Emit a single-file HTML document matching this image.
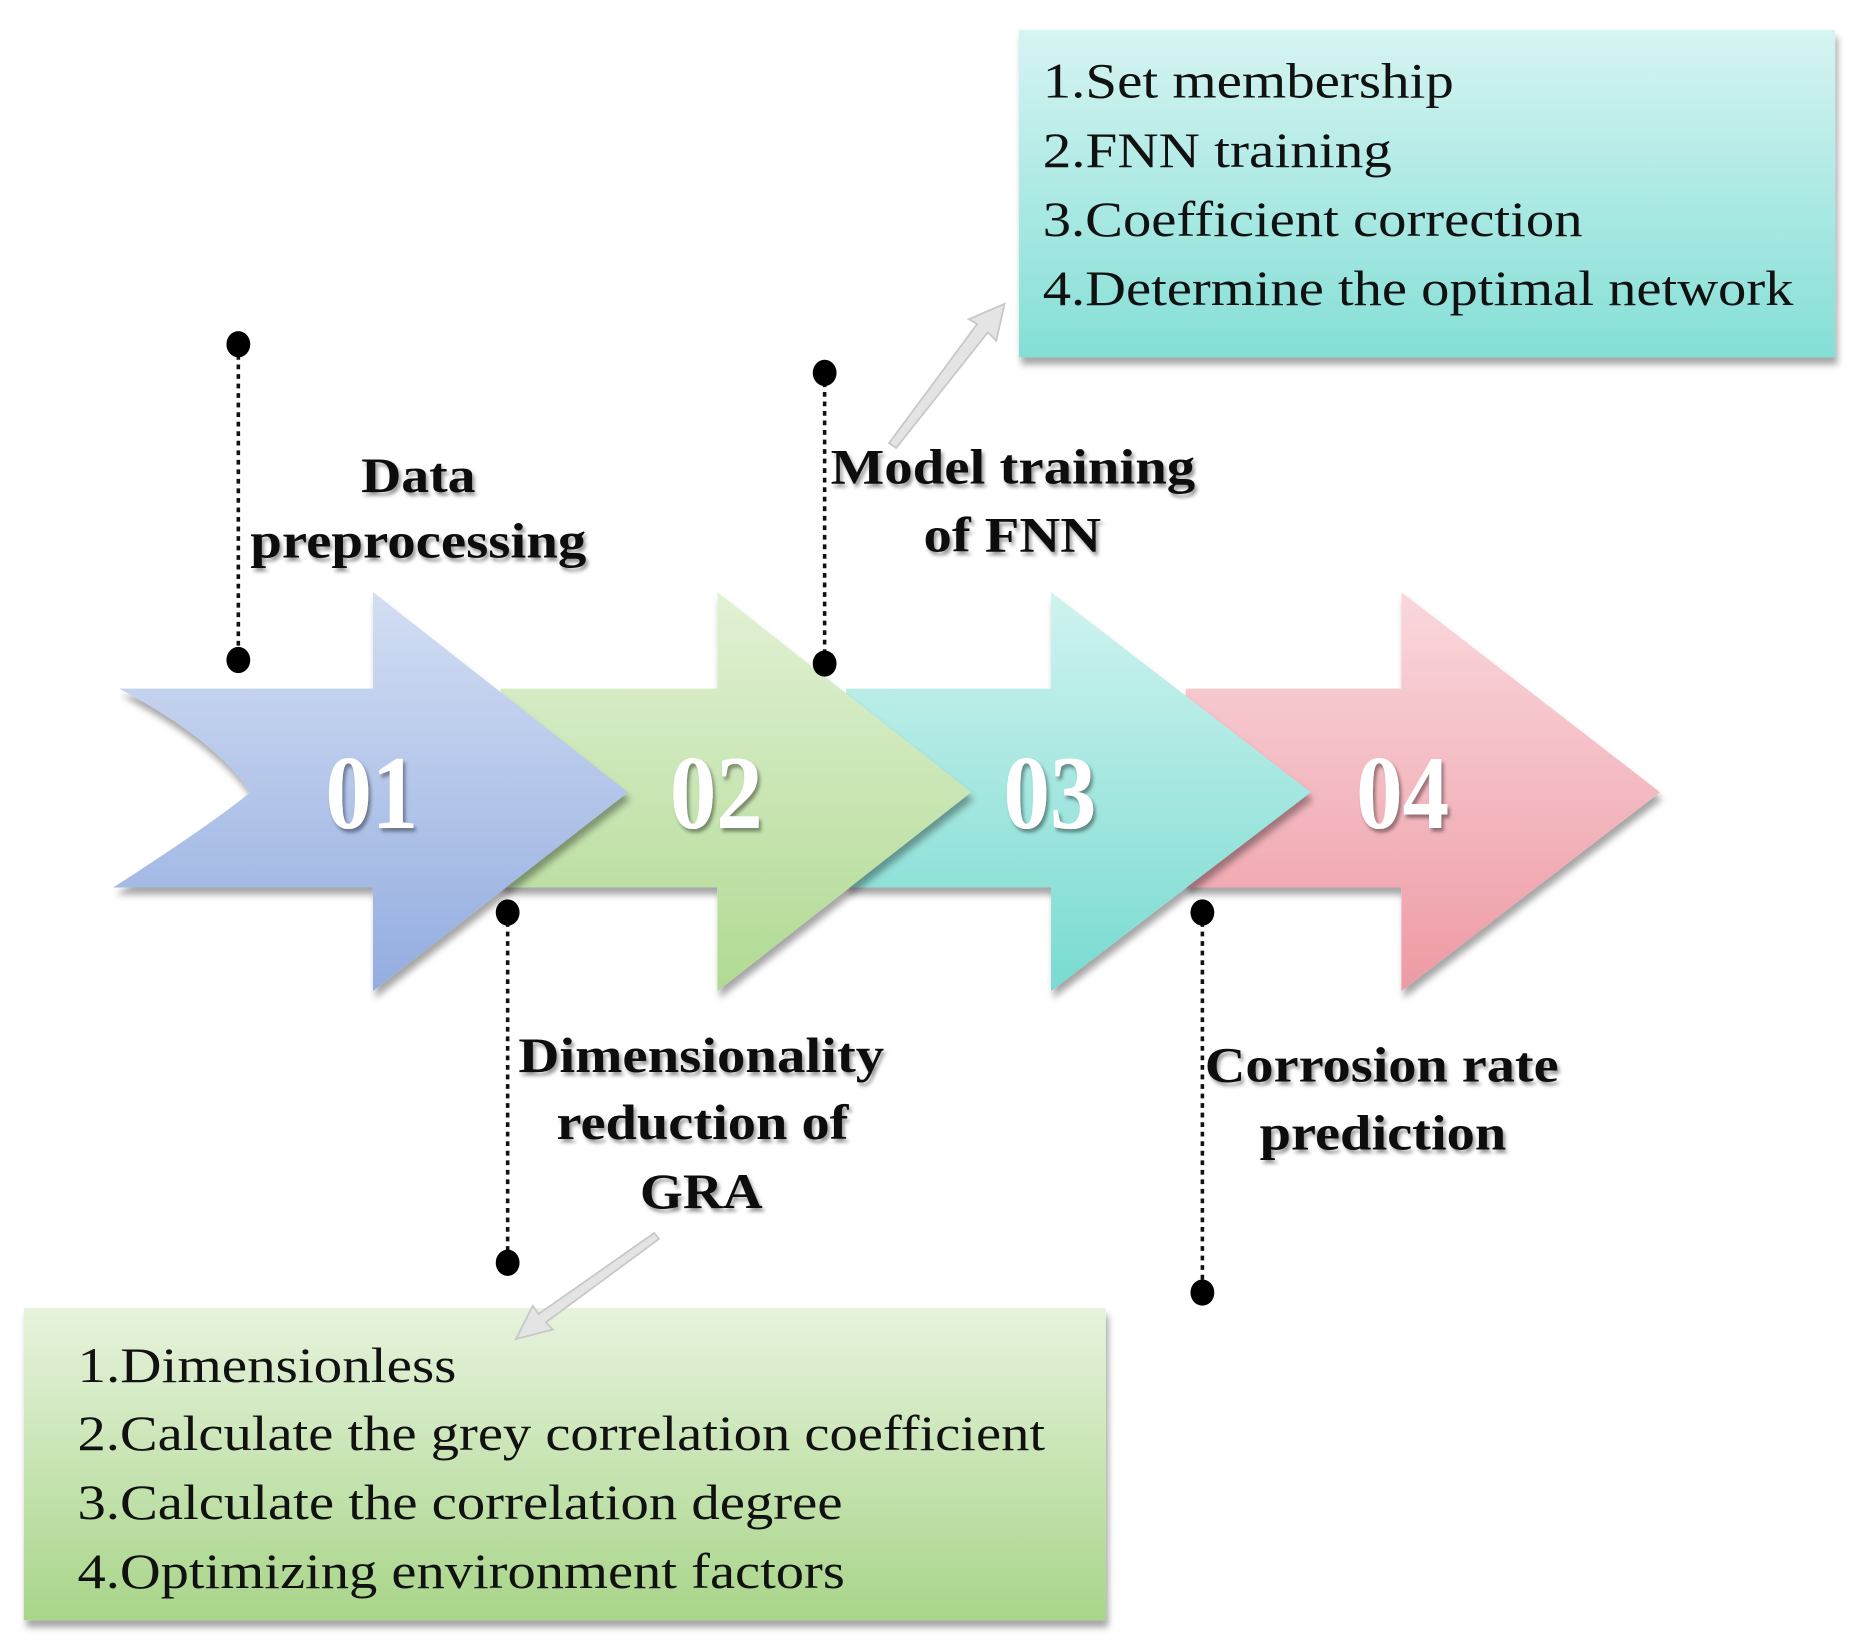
<!DOCTYPE html>
<html><head><meta charset="utf-8"><style>html,body{margin:0;padding:0;background:#fff}svg{display:block}</style></head>
<body>
<svg width="1859" height="1644" viewBox="0 0 1560 1380" preserveAspectRatio="none" xmlns="http://www.w3.org/2000/svg">
<defs>
<linearGradient id="g1" x1="0" y1="0" x2="0" y2="1"><stop offset="0" stop-color="#d3def3"/><stop offset="1" stop-color="#93ade0"/></linearGradient>
<linearGradient id="g2" x1="0" y1="0" x2="0" y2="1"><stop offset="0" stop-color="#e2f1d5"/><stop offset="1" stop-color="#b0da92"/></linearGradient>
<linearGradient id="g3" x1="0" y1="0" x2="0" y2="1"><stop offset="0" stop-color="#d0f3ef"/><stop offset="1" stop-color="#78dbd1"/></linearGradient>
<linearGradient id="g4" x1="0" y1="0" x2="0" y2="1"><stop offset="0" stop-color="#f9d8dd"/><stop offset="1" stop-color="#ee9aa4"/></linearGradient>
<linearGradient id="bt" x1="0" y1="0" x2="0" y2="1"><stop offset="0" stop-color="#d6f4f2"/><stop offset="1" stop-color="#84dfd6"/></linearGradient>
<linearGradient id="bb" x1="0" y1="0" x2="0" y2="1"><stop offset="0" stop-color="#e7f3dd"/><stop offset="1" stop-color="#a8d589"/></linearGradient>
<filter id="sh" x="-10%" y="-10%" width="120%" height="130%"><feDropShadow dx="2" dy="6" stdDeviation="3" flood-color="#000" flood-opacity="0.35"/></filter>
<filter id="ts" x="-5%" y="-20%" width="110%" height="150%"><feDropShadow dx="2" dy="3" stdDeviation="1.5" flood-color="#000" flood-opacity="0.4"/></filter>
</defs>

<!-- arrows back to front -->
<path d="M995 578 L1176 578 L1176 497 L1393 665 L1176 832 L1176 745 L995 745 Z" fill="url(#g4)" filter="url(#sh)"/>
<path d="M710 578 L882 578 L882 497 L1100 665 L882 832 L882 745 L710 745 Z" fill="url(#g3)" filter="url(#sh)"/>
<path d="M420 578 L602 578 L602 497 L815 665 L602 832 L602 745 L420 745 Z" fill="url(#g2)" filter="url(#sh)"/>
<path d="M100 578 L313 578 L313 497 L527 665 L313 832 L313 745 L95 745 Q180 690 210 665 Q180 620 100 578 Z" fill="url(#g1)" filter="url(#sh)"/>

<g font-family="Liberation Serif, serif" font-weight="bold" font-size="88" fill="#fff" filter="url(#ts)">
<text x="273" y="695" textLength="78" lengthAdjust="spacingAndGlyphs">01</text>
<text x="562" y="695" textLength="78" lengthAdjust="spacingAndGlyphs">02</text>
<text x="842" y="695" textLength="78" lengthAdjust="spacingAndGlyphs">03</text>
<text x="1138" y="695" textLength="78" lengthAdjust="spacingAndGlyphs">04</text>
</g>

<!-- dotted leaders -->
<g stroke="#111" stroke-width="3" stroke-dasharray="4 4">
<line x1="200" y1="290" x2="200" y2="553"/>
<line x1="692" y1="313" x2="692" y2="557"/>
<line x1="426" y1="766" x2="426" y2="1060"/>
<line x1="1009" y1="766" x2="1009" y2="1085"/>
</g>
<g fill="#000">
<ellipse cx="200" cy="289" rx="10" ry="11"/><ellipse cx="200" cy="554" rx="10" ry="11"/>
<ellipse cx="692" cy="313" rx="10" ry="11"/><ellipse cx="692" cy="557" rx="10" ry="11"/>
<ellipse cx="426" cy="766" rx="10" ry="11"/><ellipse cx="426" cy="1060" rx="10" ry="11"/>
<ellipse cx="1009" cy="766" rx="10" ry="11"/><ellipse cx="1009" cy="1085" rx="10" ry="11"/>
</g>

<!-- bold labels -->
<g font-family="Liberation Serif, serif" font-weight="bold" font-size="42" fill="#111" filter="url(#ts)" lengthAdjust="spacingAndGlyphs">
<text x="303" y="413" textLength="96" lengthAdjust="spacingAndGlyphs">Data</text>
<text x="210" y="468" textLength="282" lengthAdjust="spacingAndGlyphs">preprocessing</text>
<text x="697" y="406" textLength="306" lengthAdjust="spacingAndGlyphs">Model training</text>
<text x="775" y="463" textLength="149" lengthAdjust="spacingAndGlyphs">of FNN</text>
<text x="435" y="900" textLength="307" lengthAdjust="spacingAndGlyphs">Dimensionality</text>
<text x="467" y="956" textLength="245" lengthAdjust="spacingAndGlyphs">reduction of</text>
<text x="537" y="1014" textLength="103" lengthAdjust="spacingAndGlyphs">GRA</text>
<text x="1011" y="908" textLength="297" lengthAdjust="spacingAndGlyphs">Corrosion rate</text>
<text x="1057" y="965" textLength="207" lengthAdjust="spacingAndGlyphs">prediction</text>
</g>

<!-- boxes -->
<rect x="855" y="25" width="685" height="275" fill="url(#bt)" filter="url(#sh)"/>
<rect x="20" y="1098" width="908" height="262" fill="url(#bb)" filter="url(#sh)"/>

<g font-family="Liberation Serif, serif" font-size="42" fill="#111">
<text x="875" y="82" textLength="345" lengthAdjust="spacingAndGlyphs">1.Set membership</text>
<text x="875" y="140" textLength="293" lengthAdjust="spacingAndGlyphs">2.FNN training</text>
<text x="875" y="198" textLength="453" lengthAdjust="spacingAndGlyphs">3.Coefficient correction</text>
<text x="875" y="256" textLength="630" lengthAdjust="spacingAndGlyphs">4.Determine the optimal network</text>
<text x="65" y="1160" textLength="318" lengthAdjust="spacingAndGlyphs">1.Dimensionless</text>
<text x="65" y="1217" textLength="812" lengthAdjust="spacingAndGlyphs">2.Calculate the grey correlation coefficient</text>
<text x="65" y="1275" textLength="642" lengthAdjust="spacingAndGlyphs">3.Calculate the correlation degree</text>
<text x="65" y="1333" textLength="644" lengthAdjust="spacingAndGlyphs">4.Optimizing environment factors</text>
</g>

<!-- pointer arrows -->
<g fill="#e4e4e4" stroke="#c8c8c8" stroke-width="1.5">
<path d="M746 372 L820 272 L813 268 L843 255 L836 286 L829 279 L752 376 Z"/>
<path d="M553 1040 L458 1110 L464 1116 L433 1124 L447 1096 L452 1103 L549 1035 Z"/>
</g>
</svg>
</body></html>
